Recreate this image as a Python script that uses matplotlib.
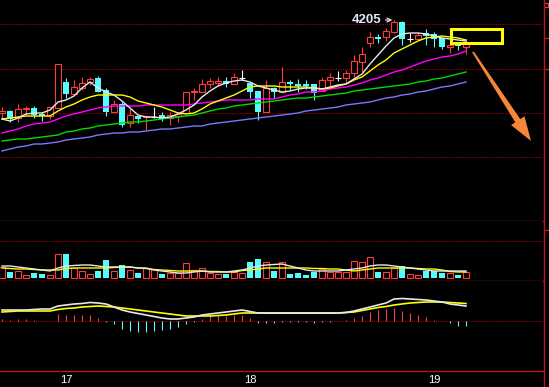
import matplotlib
matplotlib.use('Agg')
import matplotlib.pyplot as plt
import numpy as np
from matplotlib.patches import Rectangle, Polygon

# 日K(小时)数据
opens = [4112, 4114, 4107, 4116, 4117, 4111, 4109, 4117, 4143, 4131,
         4137, 4143, 4147, 4135, 4113, 4121, 4102, 4109, 4108, 4108,
         4110, 4107, 4109, 4112, 4133, 4133, 4141, 4142, 4144, 4141,
         4147, 4142, 4134, 4113, 4137, 4133, 4143, 4141, 4141, 4141,
         4134, 4145, 4147, 4147, 4152, 4163, 4182, 4188, 4188, 4193,
         4203, 4186, 4186, 4192, 4191, 4187, 4178, 4181, 4178]
highs = [4118, 4115, 4121, 4119, 4119, 4113, 4118, 4161, 4147, 4145,
         4148, 4148, 4149, 4137, 4125, 4123, 4116, 4109, 4109, 4118,
         4113, 4113, 4113, 4133, 4137, 4146, 4147, 4148, 4148, 4152,
         4155, 4142, 4134, 4145, 4138, 4158, 4145, 4146, 4145, 4141,
         4148, 4152, 4154, 4155, 4170, 4178, 4193, 4191, 4197, 4205,
         4204, 4192, 4192, 4196, 4193, 4187, 4180, 4181, 4186]
lows = [4107, 4103, 4103, 4111, 4107, 4104, 4106, 4117, 4127, 4130,
        4135, 4140, 4133, 4109, 4113, 4098, 4098, 4102, 4095, 4107,
        4104, 4100, 4103, 4112, 4125, 4133, 4137, 4139, 4138, 4141,
        4145, 4127, 4105, 4113, 4127, 4132, 4135, 4133, 4136, 4125,
        4134, 4137, 4144, 4143, 4148, 4153, 4178, 4182, 4184, 4192,
        4180, 4183, 4186, 4180, 4178, 4176, 4172, 4175, 4171]
closes = [4114, 4106, 4116, 4117, 4110, 4109, 4118, 4161, 4131, 4138,
          4142, 4146, 4133, 4113, 4121, 4100, 4110, 4106, 4109, 4108,
          4106, 4110, 4111, 4133, 4134, 4141, 4144, 4144, 4141, 4148,
          4147, 4133, 4113, 4137, 4133, 4143, 4141, 4139, 4139, 4132,
          4145, 4148, 4147, 4152, 4164, 4171, 4188, 4186, 4194, 4203,
          4186, 4186, 4190, 4189, 4186, 4178, 4180, 4179, 4182]

# 均线
ma5 = [4106, 4104, 4107, 4111, 4112, 4112, 4115, 4123, 4125, 4129,
       4137, 4143, 4137, 4133, 4130, 4124, 4117, 4110, 4108, 4108,
       4107, 4108, 4111, 4115, 4120, 4128, 4134, 4139, 4142, 4144,
       4145, 4143, 4139, 4137, 4135, 4133, 4134, 4136, 4137, 4137,
       4136, 4138, 4140, 4141, 4146, 4151, 4161, 4170, 4179, 4187,
       4191, 4192, 4192, 4191, 4189, 4187, 4186, 4185, 4184]
ma10 = [4106, 4107, 4108, 4109, 4109, 4109, 4109, 4114, 4118, 4121,
        4125, 4128, 4130, 4130, 4130, 4130, 4128, 4124, 4122, 4120,
        4118, 4115, 4112, 4111, 4112, 4116, 4121, 4124, 4127, 4130,
        4134, 4138, 4139, 4139, 4139, 4138, 4138, 4138, 4138, 4137,
        4136, 4137, 4139, 4141, 4145, 4148, 4154, 4160, 4165, 4172,
        4176, 4180, 4184, 4187, 4188, 4189, 4188, 4187, 4185]
ma20 = [4092, 4094, 4096, 4099, 4101, 4102, 4103, 4106, 4109, 4111,
        4113, 4115, 4117, 4118, 4119, 4119, 4119, 4119, 4120, 4120,
        4120, 4120, 4120, 4120, 4121, 4122, 4123, 4124, 4125, 4125,
        4125, 4125, 4126, 4126, 4126, 4128, 4130, 4131, 4133, 4133,
        4134, 4136, 4137, 4138, 4140, 4142, 4145, 4147, 4150, 4153,
        4155, 4158, 4161, 4164, 4166, 4168, 4169, 4171, 4174]
ma40 = [4084, 4085, 4086, 4086, 4087, 4088, 4089, 4090, 4093, 4094,
        4096, 4097, 4099, 4100, 4101, 4102, 4103, 4103, 4104, 4105,
        4106, 4107, 4108, 4109, 4110, 4112, 4114, 4116, 4117, 4119,
        4120, 4121, 4122, 4123, 4124, 4125, 4126, 4127, 4127, 4128,
        4129, 4130, 4131, 4132, 4134, 4135, 4136, 4137, 4138, 4139,
        4140, 4141, 4143, 4144, 4146, 4147, 4149, 4151, 4153]
ma60 = [4074, 4076, 4078, 4079, 4081, 4081, 4082, 4083, 4085, 4086,
        4087, 4088, 4090, 4091, 4092, 4092, 4093, 4093, 4094, 4095,
        4096, 4096, 4097, 4098, 4099, 4099, 4101, 4102, 4103, 4104,
        4105, 4106, 4107, 4108, 4109, 4110, 4111, 4112, 4114, 4115,
        4116, 4117, 4118, 4120, 4121, 4122, 4123, 4125, 4127, 4128,
        4130, 4131, 4133, 4134, 4136, 4138, 4139, 4141, 4143]

# 成交量
vol = [11, 6, 7, 3, 5, 4, 3, 24, 24, 10,
       7, 4, 7, 18, 7, 13, 8, 5, 10, 9,
       4, 5, 5, 15, 8, 10, 5, 4, 4, 6,
       5, 16, 19, 16, 7, 16, 4, 5, 3, 6,
       9, 6, 6, 6, 17, 16, 21, 6, 6, 10,
       12, 4, 3, 7, 7, 5, 5, 3, 6]
vol_ma5 = [12, 12, 11, 10, 9, 8, 7, 10, 12, 12.5,
           13, 13, 12, 11, 11, 11, 11, 10, 10, 8,
           7, 6, 5, 5, 6, 7, 6, 6, 6, 7,
           8, 10, 12, 13, 13.5, 14, 12, 10, 8, 7,
           7, 7, 7, 8, 9, 10, 12, 13, 13, 12,
           11, 10, 9, 8, 7, 7, 7, 7, 7]
vol_ma10 = [10, 9.5, 9, 9, 8.5, 8, 8, 8, 9.5, 10,
            10, 10, 10, 10, 10.5, 11, 11, 10, 9.5, 8.5,
            8, 7.5, 7, 7, 7, 7, 6.5, 6.5, 6, 6,
            7.5, 8, 9, 10, 10, 10, 10, 10, 10, 9.5,
            9.5, 9, 9, 8, 7, 8, 9, 10, 10, 10,
            10, 10, 9.5, 9, 9, 8, 6.5, 6, 6]

# MACD
dif = [11, 11, 11, 11, 11.5, 12, 12, 15, 16, 17,
       17.5, 18.5, 18, 17, 14, 11, 9, 7.5, 6, 4.5,
       3, 2, 2, 3, 4, 6, 7, 8, 9, 10,
       11, 9.5, 8, 8, 8, 8, 8, 8, 8, 8,
       8, 8, 8, 8.5, 10, 12, 14, 16, 18, 22,
       22.5, 22, 21.5, 21, 20, 19, 17, 16, 15]
dea = [9, 9.5, 10, 10, 10, 10, 10, 11.5, 12.5, 13,
       14, 14.5, 15, 14.5, 14, 13, 12, 11, 10, 9,
       8, 7, 6, 5, 5, 5, 5, 5.5, 6, 7,
       8, 8, 8, 8, 8, 8, 8, 8, 8, 8,
       8, 8, 8, 8.5, 9, 10.5, 12, 13.5, 14.5, 16,
       17, 18, 18.5, 19, 19, 19, 18.5, 18, 17.5]
macd = [2, 1, 2, 2, 1, 0.5, 0.5, 7, 6, 6,
        6, 6, 3, -0.5, -3, -8, -10, -11, -11, -10,
        -9, -8, -6, -3, -0.5, 2, 5, 6, 5, 6,
        6, 3, -2, -2, -2, -1, -1, -0.5, -1, -2,
        -0.5, -0.5, 0.5, 1, 3, 5, 9, 11, 12, 13,
        10, 8, 6, 4, 1, 0.5, -2, -5, -5]

day_labels = ['17', '18', '19']
day_pos = [8, 31, 54]
peak_idx = 49
peak_text = '4205'

RED = '#ff3c3c'
CYAN = '#54fcfc'
BORDER = '#b0181a'
GRID = '#a00000'

W, H = 549, 387
fig = plt.figure(figsize=(W / 100, H / 100), dpi=100, facecolor='black')


def panel(top, bottom):
    ax = fig.add_axes([0, (H - bottom) / H, 543 / W, (bottom - top) / H])
    ax.set_facecolor('black')
    for s in ['top', 'left', 'right']:
        ax.spines[s].set_visible(False)
    ax.spines['bottom'].set_color(BORDER)
    ax.spines['bottom'].set_linewidth(1)
    ax.set_xlim(-0.25, 67.625)
    ax.set_xticks([])
    ax.set_yticks([])
    return ax


ax_k = panel(0, 221)
ax_v = panel(221, 281)
ax_m = panel(281, 371)

x = np.arange(len(closes))
o = np.array(opens)
c = np.array(closes)
hi = np.array(highs)
lo = np.array(lows)
up = c > o
down = c < o
doji = c == o

# K线
ax_k.set_ylim(4004, 4225)
for g in [4201, 4156, 4112, 4068]:
    ax_k.axhline(g, color=GRID, lw=0.8, ls=(0, (1, 1)), zorder=1)

ax_k.vlines(x[up], c[up], hi[up], color=RED, lw=0.8, zorder=3)
ax_k.vlines(x[up], lo[up], o[up], color=RED, lw=0.8, zorder=3)
ax_k.bar(x[up], c[up] - o[up], bottom=o[up], width=0.7, facecolor='black',
         edgecolor=RED, lw=0.8, zorder=3)
ax_k.vlines(x[down], lo[down], hi[down], color=CYAN, lw=0.8, zorder=3)
ax_k.bar(x[down], o[down] - c[down], bottom=c[down], width=0.7, color=CYAN,
         lw=0, zorder=3)
ax_k.vlines(x[doji], lo[doji], hi[doji], color='white', lw=0.8, zorder=3)
ax_k.hlines(o[doji], x[doji] - 0.35, x[doji] + 0.35, color='white', lw=0.8, zorder=3)

ax_k.plot(x, ma60, color='#7878ff', lw=1, zorder=4)
ax_k.plot(x, ma40, color='#00dc00', lw=1, zorder=4)
ax_k.plot(x, ma20, color='#ff00ff', lw=1, zorder=4)
ax_k.plot(x, ma10, color='#ffff00', lw=1, zorder=4)
ax_k.plot(x, ma5, color='#e8e8e8', lw=1, zorder=4)

ax_k.annotate(peak_text, xy=(peak_idx - 0.2, highs[peak_idx]), xytext=(-8, 0),
              textcoords='offset points', ha='right', va='center',
              color='#dfe8ff', fontsize=9.5, fontweight='bold',
              family='Liberation Sans',
              arrowprops=dict(arrowstyle='->,head_length=0.3,head_width=0.15',
                              color='#e0e0e0', lw=0.9, shrinkA=1, shrinkB=0),
              zorder=6)

# 成交量
ax_v.set_ylim(-3, 57)
ax_v.axhline(37, color=GRID, lw=0.8, ls=(0, (1, 1)), zorder=1)
v = np.array(vol)
red_v = c >= o
ax_v.bar(x[red_v], v[red_v], width=0.7, facecolor='black', edgecolor=RED,
         lw=0.8, zorder=3)
ax_v.bar(x[~red_v], v[~red_v], width=0.7, color=CYAN, lw=0, zorder=3)
ax_v.plot(x, vol_ma10, color='#ffff00', lw=1, zorder=4)
ax_v.plot(x, vol_ma5, color='#e8e8e8', lw=1, zorder=4)

# MACD
ax_m.set_ylim(-50, 40)
ax_m.axhline(0, color=GRID, lw=0.8, ls=(0, (1, 1)), zorder=1)
m = np.array(macd)
ax_m.vlines(x[m > 0], 0, m[m > 0], color=RED, lw=0.8, zorder=3)
ax_m.vlines(x[m < 0], 0, m[m < 0], color=CYAN, lw=0.8, zorder=3)
ax_m.plot(x, dea, color='#ffff00', lw=1.2, zorder=4)
ax_m.plot(x, dif, color='#e8e8e8', lw=1.2, zorder=4)
ax_m.set_xticks(day_pos)
ax_m.set_xticklabels(day_labels, color='white', fontsize=8, family='Liberation Sans')
ax_m.tick_params(axis='x', length=0, pad=3)

# 叠加层:边框, 黄框, 箭头
ov = fig.add_axes([0, 0, 1, 1], facecolor='none')
ov.set_xlim(0, W)
ov.set_ylim(H, 0)
ov.axis('off')
ov.plot([543.5, 543.5], [0, H], color=BORDER, lw=1)
for ty in [38, 69, 230]:
    ov.plot([543.5, 549], [ty, ty], color=BORDER, lw=1)
ov.add_patch(Rectangle((544, 3), 4, 4, fill=False, edgecolor=RED, lw=0.8))
ov.add_patch(Rectangle((451, 28.5), 50.5, 14.5, fill=False, edgecolor='#ffff00', lw=2.2))
arrow_pts = [(473.8, 51.5), (520.3, 119.1), (524.5, 116.3), (531, 141),
             (511.1, 125.1), (515.3, 122.3), (472.2, 52.5)]
ov.add_patch(Polygon(arrow_pts, closed=True, facecolor='#f5873a', edgecolor='none'))

fig.savefig('out.png', dpi=100, facecolor='black')
